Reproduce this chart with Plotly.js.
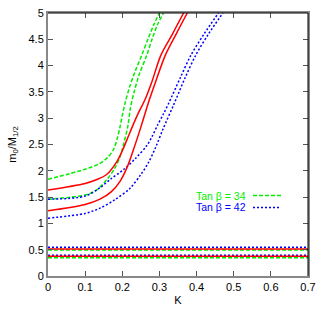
<!DOCTYPE html>
<html>
<head>
<meta charset="utf-8">
<script src="https://cdn.plot.ly/plotly-3.0.1.min.js"></script>
<style>html,body{margin:0;padding:0;background:#fff;}#chart{width:330px;height:309px;}</style>
</head>
<body>
<div id="chart"></div>
<script>
// Upper/lower curves for each tan beta (K vs m0/M1/2)
var green1K = [0, 0.1, 0.14, 0.16, 0.176, 0.186, 0.194, 0.2, 0.208, 0.22, 0.235, 0.2525, 0.27, 0.285, 0.30];
var green1Y = [1.84, 2.03, 2.14, 2.25, 2.40, 2.60, 2.84, 3.05, 3.30, 3.60, 3.90, 4.20, 4.52, 4.78, 5.0];
var green2K = [0, 0.1, 0.13, 0.158, 0.18, 0.194, 0.205, 0.215, 0.222, 0.232, 0.245, 0.266, 0.281, 0.295, 0.311];
var green2Y = [1.46, 1.54, 1.63, 1.83, 2.05, 2.27, 2.55, 2.85, 3.20, 3.50, 3.82, 4.20, 4.52, 4.78, 5.0];
var red1K = [0, 0.1, 0.13, 0.158, 0.185, 0.2, 0.22, 0.24, 0.261, 0.28, 0.304, 0.335, 0.365];
var red1Y = [1.635, 1.76, 1.83, 1.93, 2.17, 2.38, 2.72, 3.05, 3.35, 3.7, 4.2, 4.6, 5.0];
var red2K = [0, 0.1, 0.14, 0.17, 0.194, 0.212, 0.23, 0.25, 0.272, 0.29, 0.316, 0.345, 0.375];
var red2Y = [1.24, 1.36, 1.46, 1.60, 1.80, 2.05, 2.40, 2.83, 3.33, 3.7, 4.2, 4.6, 5.0];
var blue1K = [0, 0.1, 0.14, 0.17, 0.203, 0.235, 0.266, 0.28, 0.295, 0.31, 0.324, 0.355, 0.385, 0.42, 0.459];
var blue1Y = [1.46, 1.52, 1.68, 1.85, 2.02, 2.23, 2.48, 2.65, 2.87, 3.07, 3.27, 3.75, 4.2, 4.6, 5.0];
var blue2K = [0, 0.1, 0.14, 0.18, 0.221, 0.25, 0.27, 0.29, 0.31, 0.338, 0.368, 0.398, 0.432, 0.471];
var blue2Y = [1.10, 1.19, 1.29, 1.45, 1.67, 1.93, 2.15, 2.45, 2.80, 3.25, 3.75, 4.2, 4.6, 5.0];
// Flat bands (constant lines)
var flatK = [0, 0.7];
var blueFlat = [0.546, 0.394];
var redFlat = [0.513, 0.375];
var greenFlat = [0.494, 0.348];
var legendLabels = ["Tan β = 34", "Tan β = 42"];

var GREEN = '#00ee00', RED = '#ff0000', BLUE = '#0000ff';
var gLine = {color: GREEN, width: 1.5, dash: '4px,2px'};
var rLine = {color: RED, width: 1.5};
var bLine = {color: BLUE, width: 1.5, dash: '2px,2px'};

function tr(x, y, line) {
  var l = Object.assign({}, line);
  if (x.length > 2) { l.shape = 'spline'; l.smoothing = 0.9; }
  return {x: x, y: y, mode: 'lines', line: l, showlegend: false, hoverinfo: 'skip', cliponaxis: true};
}
var data = [];
blueFlat.forEach(function(v){ data.push(tr(flatK, [v, v], bLine)); });
greenFlat.forEach(function(v){ data.push(tr(flatK, [v, v], gLine)); });
redFlat.forEach(function(v){ data.push(tr(flatK, [v, v], rLine)); });
data.push(tr(green1K, green1Y, gLine));
data.push(tr(green2K, green2Y, gLine));
data.push(tr(blue1K, blue1Y, bLine));
data.push(tr(blue2K, blue2Y, bLine));
data.push(tr(red1K, red1Y, rLine));
data.push(tr(red2K, red2Y, rLine));

var L = 48, R = 308, T = 13, B = 276;
function px(x){ return (x - L) / (R - L); }
function py(y){ return (B - y) / (B - T); }

var font = {family: 'Liberation Sans, Arial, sans-serif', size: 11, color: '#000'};
var legFont = 10.5;
var layout = {
  width: 330, height: 309,
  margin: {l: L, r: 330 - R, t: T, b: 309 - B},
  paper_bgcolor: '#fff', plot_bgcolor: '#fff',
  font: font,
  showlegend: false,
  xaxis: {
    range: [0, 0.7], dtick: 0.1, tick0: 0,
    ticks: 'inside', ticklen: 5, tickcolor: '#555', tickwidth: 1,
    showline: true, linecolor: '#888', linewidth: 2, mirror: 'ticks',
    showgrid: false, zeroline: false,
    tickfont: font,
    title: {text: 'K', font: font, standoff: 4}
  },
  yaxis: {
    range: [0, 5], dtick: 0.5, tick0: 0,
    ticks: 'inside', ticklen: 5, tickcolor: '#555', tickwidth: 1,
    showline: true, linecolor: '#888', linewidth: 2, mirror: 'ticks',
    showgrid: false, zeroline: false,
    tickfont: font,
    title: {text: 'm<sub>0</sub>/M<sub>1/2</sub>', font: font, standoff: 10}
  },
  shapes: [
    {type: 'line', xref: 'paper', yref: 'paper', x0: 0, x1: 1, y0: 1, y1: 1, line: {color: '#000', width: 1}, layer: 'above'},
    {type: 'line', xref: 'paper', yref: 'paper', x0: 1, x1: 1, y0: 0, y1: 1, line: {color: '#000', width: 1}, layer: 'above'},
    {type: 'line', xref: 'paper', yref: 'paper', x0: px(253), x1: px(283), y0: py(195.5), y1: py(195.5), line: gLine},
    {type: 'line', xref: 'paper', yref: 'paper', x0: px(253), x1: px(281), y0: py(207.5), y1: py(207.5), line: bLine}
  ],
  annotations: [
    {xref: 'paper', yref: 'paper', x: px(247), y: py(195.5), xanchor: 'right', yanchor: 'middle', borderpad: 0, text: legendLabels[0], showarrow: false, font: {family: font.family, size: legFont, color: GREEN}},
    {xref: 'paper', yref: 'paper', x: px(247), y: py(207.5), xanchor: 'right', yanchor: 'middle', borderpad: 0, text: legendLabels[1], showarrow: false, font: {family: font.family, size: legFont, color: BLUE}}
  ]
};
Plotly.newPlot('chart', data, layout, {displayModeBar: false, staticPlot: true});
</script>
</body>
</html>
